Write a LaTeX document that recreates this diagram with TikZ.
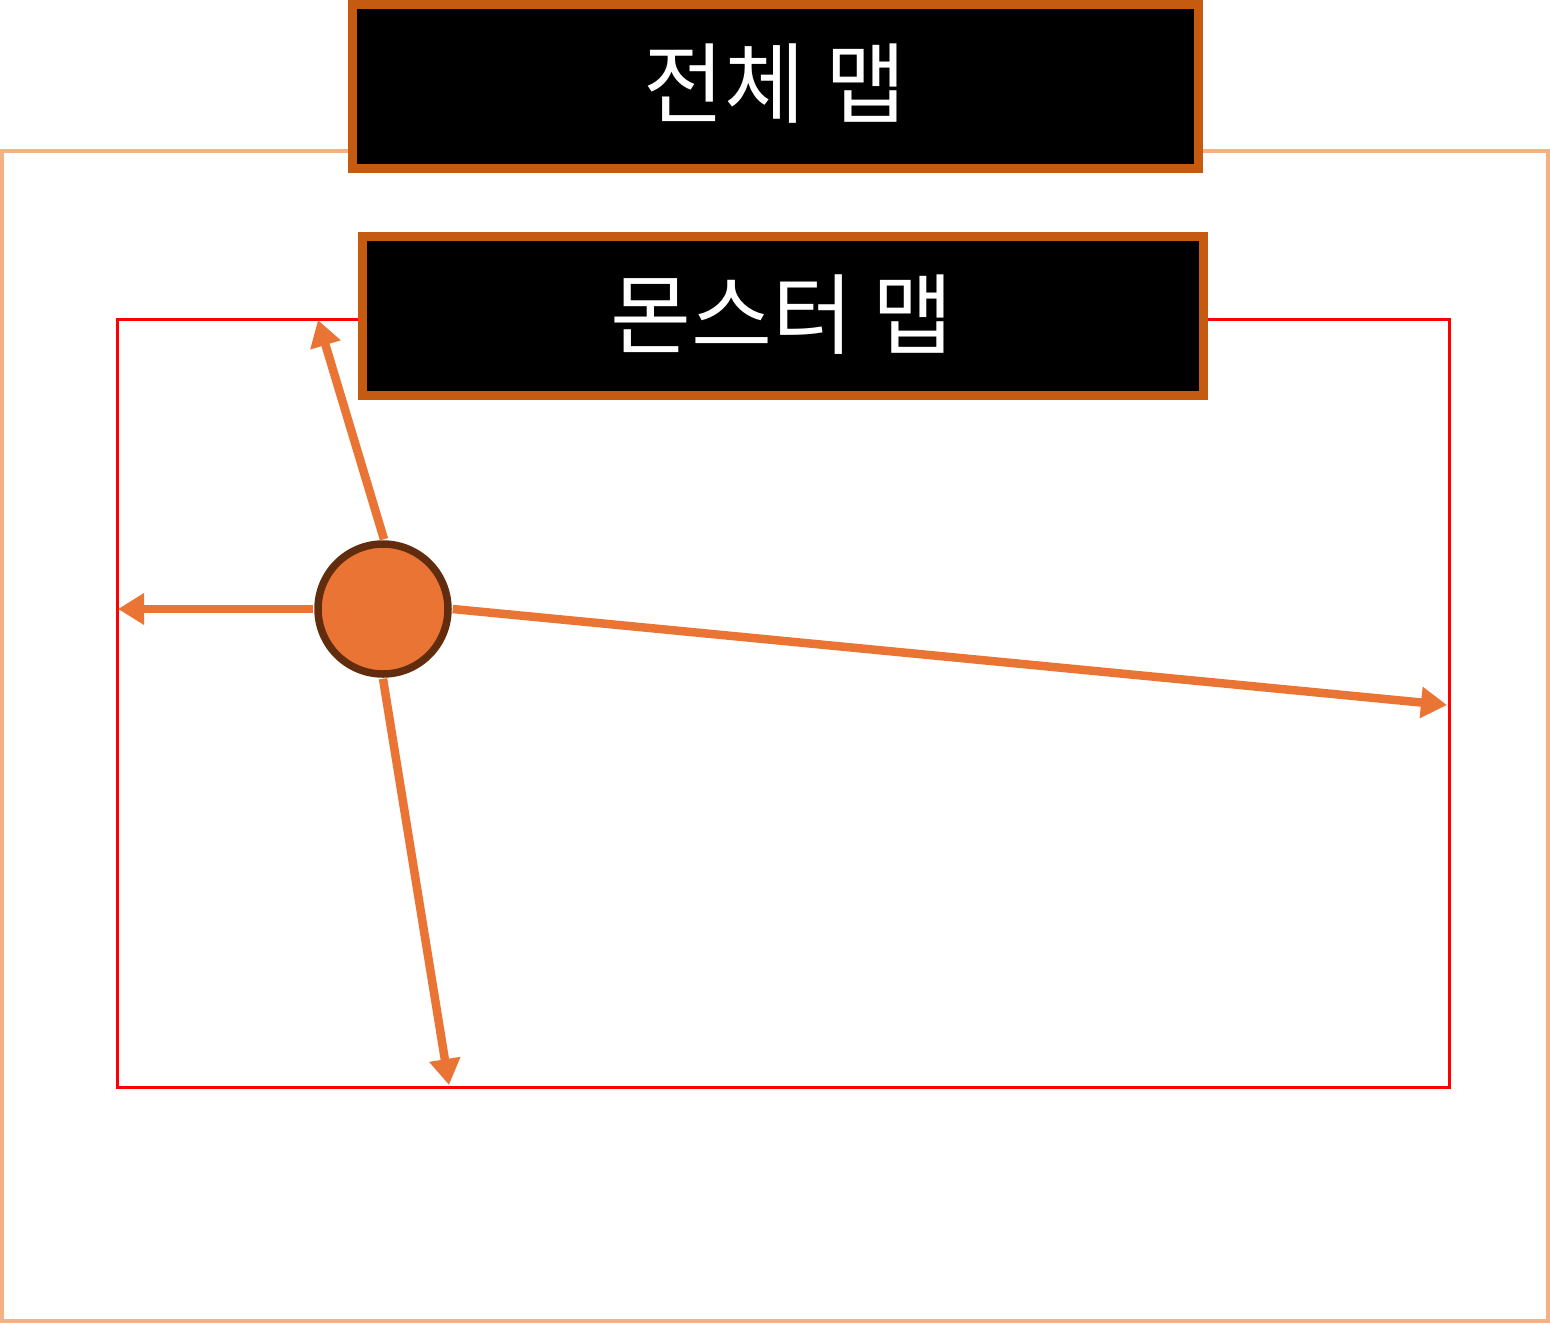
\documentclass[tikz,border=0pt]{standalone}
\usepackage{fontspec}
\newfontfamily\krfont{Noto Sans CJK KR}
\usetikzlibrary{arrows.meta}
\definecolor{outerc}{HTML}{F4B183}
\definecolor{boxborder}{HTML}{C55A11}
\definecolor{arrowc}{HTML}{EA7434}
\definecolor{circborder}{HTML}{612D0E}
\tikzset{
  titlebox/.style={draw=boxborder, line width=9pt, fill=black},
  titletext/.style={text=white, font=\krfont\fontsize{88}{90}\selectfont},
  mover/.style={draw=arrowc, line width=8.5pt, -{Triangle[length=26pt,width=30pt]}},
}
\begin{document}
\begin{tikzpicture}[x=1pt,y=-1pt]
\useasboundingbox (0,0) rectangle (1550,1323);
% outer map
\draw[outerc, line width=3.5pt] (2,151) rectangle (1548,1321);
% title box
\draw[titlebox] (352,4) rectangle (1198,168);
\node[titletext] (t1) at (775,84) {전체 맵};
% monster map
\draw[red, line width=3pt] (117,319) rectangle (1449,1087);
\draw[titlebox] (362,236) rectangle (1203,395);
\node[titletext] (t2) at (782,315) {몬스터 맵};
% monster
\node[circle, draw=circborder, line width=7.5pt, fill=arrowc, minimum size=130pt, inner sep=0pt] (m) at (383,609) {};
\coordinate (pu) at (318,320);
\coordinate (pl) at (118,609);
\coordinate (pr) at (1447,705);
\coordinate (pd) at (449,1085);
\draw[mover] (m.north) ++(1,-1) -- (pu);
\draw[mover] (m.west) ++(-1,0) -- (pl);
\draw[mover] (m.east) ++(1,0) -- (pr);
\draw[mover] (m.south) ++(0,1) -- (pd);
\end{tikzpicture}
\end{document}
